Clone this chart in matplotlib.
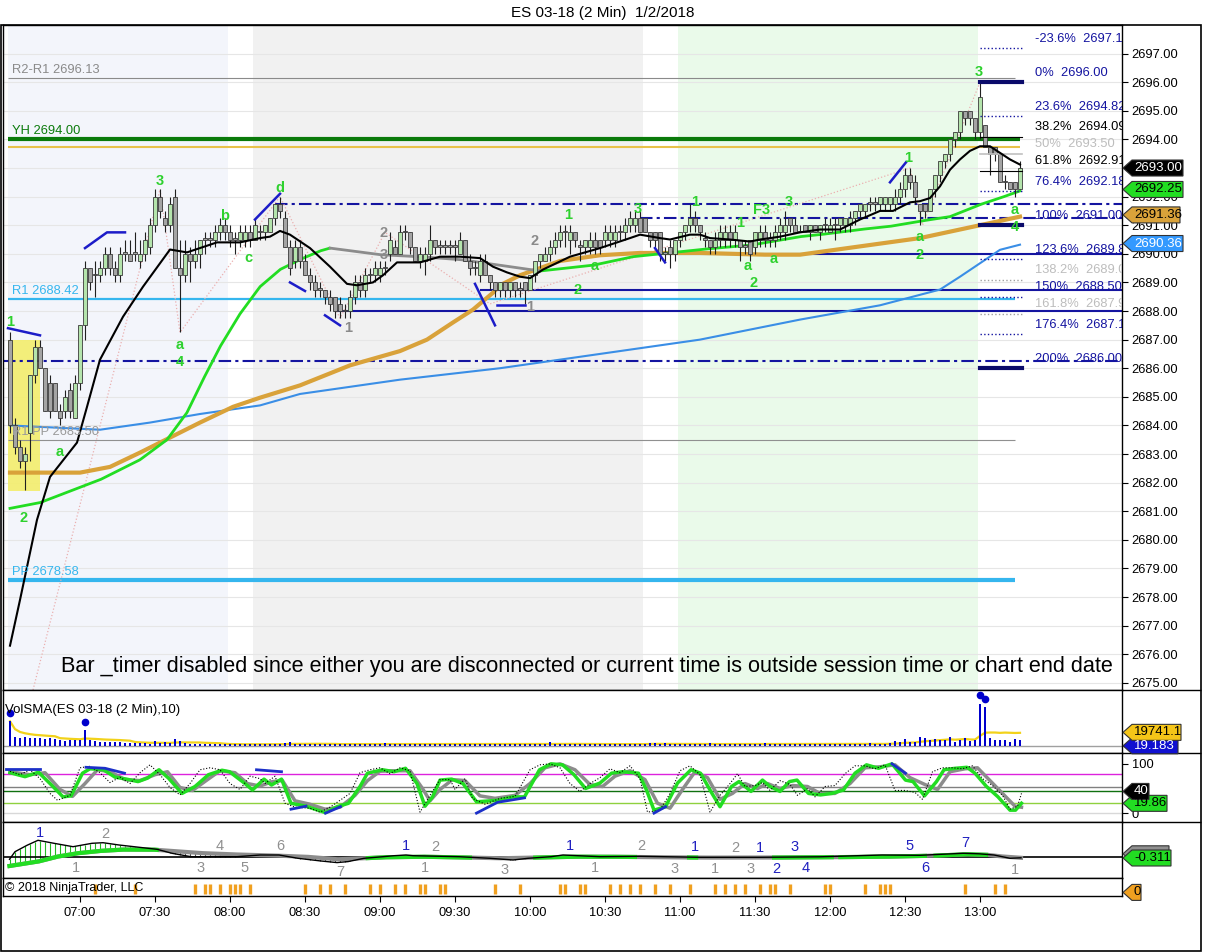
import numpy as np
import pandas as pd
import matplotlib.pyplot as plt
from matplotlib.patches import Rectangle, Polygon
import matplotlib.transforms as mtransforms

plt.rcParams['font.family'] = ['Liberation Sans', 'DejaVu Sans']
plt.rcParams['font.size'] = 9.3

W, H = 1206, 952

# ---- ES 03-18, 2 min bars, 06:32 .. 13:16 (bar number is the x position) ----
opens = [
    2687, 2684, 2683.25, 2682.75, 2683.75, 2685.75, 2686.75, 2686, 2685.5, 2685.5,
    2684.5, 2684.5, 2685.25, 2684.25, 2685.5, 2687.5, 2689.5, 2689.25, 2689.25, 2689.5,
    2690, 2689.5, 2689.25, 2690, 2690, 2690, 2689.75, 2690, 2690.25, 2691,
    2692, 2691.25, 2691, 2692, 2689.5, 2689.25, 2690, 2689.75, 2690, 2690.5,
    2690.5, 2690.5, 2690.75, 2691, 2690.75, 2690.5, 2690.5, 2690.5, 2690.75, 2690.5,
    2690.75, 2690.75, 2690.75, 2691.25, 2691.75, 2691.25, 2690.25, 2689.75, 2690.25, 2689.75,
    2689.25, 2689, 2688.75, 2688.75, 2688.5, 2688.5, 2688.25, 2688, 2688, 2688.5,
    2689, 2688.75, 2689.25, 2689.25, 2689.25, 2689.5, 2690, 2690.25, 2690, 2690.75,
    2690.75, 2690.25, 2689.75, 2689.75, 2690, 2690.5, 2690.25, 2690.25, 2690.25, 2690.25,
    2690, 2690.5, 2689.75, 2689.5, 2689.25, 2689.75, 2689.25, 2689, 2688.75, 2689,
    2688.75, 2689, 2688.75, 2689, 2688.75, 2689.25, 2689.75, 2689.75, 2690, 2690.25,
    2690.5, 2690.75, 2690.5, 2690.75, 2690.25, 2690.25, 2690.25, 2690.5, 2690.5, 2690.5,
    2690.5, 2690.5, 2690.75, 2690.75, 2691, 2691, 2691.25, 2691.25, 2690.75, 2690.75,
    2690.75, 2690, 2690.25, 2690, 2690.5, 2690.75, 2691, 2691.25, 2691, 2690.5,
    2690.5, 2690.25, 2690.5, 2690.5, 2690.75, 2690.5, 2690.5, 2690.25, 2690.5, 2690.25,
    2690.5, 2690.75, 2690.5, 2690.5, 2690.75, 2690.75, 2691.25, 2691, 2690.75, 2691,
    2690.75, 2691, 2690.75, 2691, 2690.75, 2691, 2691, 2691, 2691, 2691.25,
    2691.5, 2691.5, 2691.75, 2691.75, 2691.75, 2691.75, 2691.75, 2691.75, 2692, 2692.25,
    2692.75, 2692.5, 2691.75, 2691.75, 2691.5, 2692.25, 2692.75, 2693.25, 2693.5, 2694,
    2694.25, 2695, 2695, 2694.75, 2694.25, 2694.5, 2693.75, 2693.75, 2693.5, 2692.5,
    2692.5, 2692.5, 2692.25,
]
highs = [
    2687.25, 2684.25, 2683.5, 2683.25, 2685.75, 2687, 2687, 2686, 2685.75, 2685.5,
    2684.75, 2685.25, 2685.5, 2685.75, 2687.5, 2689.75, 2689.5, 2689.75, 2689.75, 2690.25,
    2690.25, 2689.75, 2690.25, 2690.5, 2690.5, 2690.75, 2690.5, 2690.75, 2691.25, 2692.25,
    2692.25, 2691.5, 2692, 2692.25, 2690.5, 2690.5, 2690.25, 2690.5, 2690.5, 2690.75,
    2690.75, 2691, 2691.25, 2691.25, 2691, 2690.75, 2691, 2691, 2691, 2691.25,
    2691, 2691, 2691.25, 2691.75, 2692, 2691.5, 2690.5, 2690.5, 2690.5, 2690,
    2689.5, 2689.25, 2689, 2688.75, 2688.75, 2688.5, 2688.5, 2688.25, 2688.75, 2689.25,
    2689.25, 2689.5, 2689.5, 2689.75, 2689.75, 2689.75, 2690.75, 2690.5, 2691, 2691,
    2690.75, 2690.25, 2690.25, 2690.25, 2691, 2690.5, 2690.5, 2690.5, 2690.5, 2690.5,
    2690.75, 2690.5, 2690, 2689.75, 2690, 2690, 2689.25, 2689, 2689, 2689,
    2689, 2689, 2689, 2689, 2689.25, 2689.75, 2690, 2690.25, 2690.5, 2690.75,
    2691, 2691, 2691, 2690.75, 2690.5, 2690.5, 2690.75, 2690.75, 2690.5, 2691,
    2691, 2691, 2691, 2691.25, 2691.5, 2691.5, 2691.5, 2691.25, 2690.75, 2690.75,
    2690.75, 2690.25, 2690.5, 2690.5, 2690.75, 2691, 2691.75, 2691.5, 2691, 2690.75,
    2690.5, 2690.75, 2691, 2691, 2691, 2691, 2690.5, 2690.5, 2690.5, 2690.75,
    2691, 2691, 2690.75, 2691, 2691.25, 2691.5, 2691.25, 2691.25, 2691, 2691,
    2691, 2691, 2691, 2691.25, 2691.25, 2691.25, 2691.25, 2691.25, 2691.5, 2691.5,
    2691.75, 2691.75, 2692, 2692, 2692, 2692, 2692, 2692.25, 2692.5, 2693,
    2693, 2692.75, 2691.75, 2691.75, 2692.25, 2692.75, 2693.25, 2693.5, 2694, 2694.25,
    2695, 2695, 2695, 2694.75, 2696, 2694.5, 2693.75, 2693.75, 2693.5, 2692.75,
    2692.5, 2692.5, 2693.25,
]
lows = [
    2683.75, 2683, 2682.5, 2681.75, 2682.75, 2685.5, 2686, 2684.5, 2684.25, 2684.5,
    2684, 2684.25, 2684.25, 2684.25, 2685.25, 2687, 2688.75, 2688.5, 2689, 2689.25,
    2689.25, 2689, 2689, 2689.75, 2689.75, 2689.75, 2689.5, 2689.75, 2690, 2690.75,
    2691.25, 2690.75, 2690.75, 2689.5, 2687.25, 2689, 2689, 2689.5, 2689.5, 2690,
    2690.25, 2690.25, 2690.5, 2690.5, 2690.25, 2690, 2690.25, 2690.25, 2690.25, 2690.5,
    2690.5, 2690.5, 2690.75, 2691, 2691.25, 2690.25, 2689.25, 2689.5, 2689.5, 2689.25,
    2688.75, 2688.5, 2688.5, 2688.25, 2688, 2687.75, 2687.75, 2687.75, 2687.75, 2688.25,
    2688.5, 2688.5, 2689, 2689, 2689, 2689.25, 2689.75, 2690, 2690, 2690.5,
    2690, 2689.75, 2689.5, 2689.25, 2689.75, 2690, 2690, 2690, 2690, 2689.75,
    2690, 2689.75, 2689.25, 2689.25, 2689, 2689.25, 2688.75, 2688.5, 2688.5, 2688.5,
    2688.5, 2688.5, 2688.5, 2688.25, 2688.75, 2689, 2689.5, 2689.75, 2689.75, 2690,
    2690.25, 2690.25, 2690, 2690.25, 2689.75, 2690, 2690, 2690, 2690, 2690.25,
    2690.25, 2690.25, 2690.5, 2690.5, 2690.75, 2690.75, 2690.75, 2690.75, 2690.25, 2690.25,
    2689.75, 2689.75, 2689.5, 2689.75, 2690.25, 2690.5, 2690.75, 2690.75, 2690.5, 2690.25,
    2690, 2690, 2690.25, 2690.25, 2690.25, 2690.25, 2689.75, 2690, 2689.75, 2690,
    2690.25, 2690.25, 2690.25, 2690.25, 2690.5, 2690.5, 2690.75, 2690.75, 2690.75, 2690.75,
    2690.5, 2690.75, 2690.5, 2690.75, 2690.75, 2690.5, 2690.75, 2690.75, 2690.75, 2691,
    2691.25, 2691.25, 2691.5, 2691.5, 2691.5, 2691.5, 2691.5, 2691.5, 2691.75, 2692,
    2692.25, 2691.75, 2691, 2691.25, 2691.5, 2692, 2692.5, 2693, 2693.25, 2693.75,
    2694, 2694.5, 2694.5, 2694, 2694, 2693.75, 2692.75, 2693.25, 2692.5, 2692.25,
    2692.25, 2692, 2692.25,
]
closes = [
    2684, 2683.25, 2682.75, 2683, 2685.75, 2686.75, 2686, 2684.5, 2684.5, 2684.5,
    2684.25, 2685, 2684.5, 2685.5, 2687.5, 2689.5, 2689, 2689.25, 2689.5, 2690,
    2689.5, 2689.25, 2690, 2690, 2689.75, 2690, 2690, 2690.5, 2691, 2692,
    2691.5, 2691, 2691.75, 2689.5, 2689.25, 2690, 2689.75, 2690, 2690.5, 2690.5,
    2690.5, 2690.75, 2691, 2690.75, 2690.5, 2690.5, 2690.75, 2690.75, 2690.5, 2691,
    2690.75, 2691, 2691.25, 2691.75, 2691.5, 2690.25, 2689.5, 2690.25, 2689.75, 2689.25,
    2689, 2688.75, 2688.75, 2688.5, 2688.25, 2688, 2688, 2688, 2688.5, 2689,
    2688.75, 2689.25, 2689.25, 2689.5, 2689.5, 2689.5, 2690.5, 2690, 2690.75, 2690.75,
    2690.25, 2689.75, 2690, 2690, 2690.5, 2690.25, 2690.25, 2690.25, 2690.25, 2690.25,
    2690.5, 2689.75, 2689.5, 2689.5, 2689.75, 2689.25, 2689, 2688.75, 2689, 2688.75,
    2689, 2688.75, 2688.75, 2688.75, 2689.25, 2689.75, 2690, 2690, 2690.25, 2690.5,
    2690.75, 2690.75, 2690.75, 2690.5, 2690.25, 2690.5, 2690.5, 2690.25, 2690.25, 2690.75,
    2690.75, 2690.75, 2690.75, 2691, 2691.25, 2691.25, 2690.75, 2690.75, 2690.5, 2690.5,
    2690, 2690, 2690, 2690.5, 2690.75, 2691, 2691.25, 2691, 2690.75, 2690.5,
    2690.25, 2690.5, 2690.75, 2690.75, 2690.5, 2690.75, 2690.25, 2690.25, 2690, 2690.75,
    2690.75, 2690.5, 2690.5, 2690.75, 2691, 2691, 2691, 2690.75, 2690.75, 2690.75,
    2691, 2690.75, 2691, 2691, 2691, 2691, 2691.25, 2691.25, 2691.25, 2691.5,
    2691.75, 2691.75, 2691.75, 2691.75, 2692, 2692, 2692, 2692, 2692.25, 2692.75,
    2692.5, 2692, 2691.5, 2691.5, 2692.25, 2692.75, 2693.25, 2693.5, 2694, 2694.25,
    2695, 2694.75, 2694.75, 2694.25, 2695.5, 2693.75, 2693.5, 2693.5, 2692.5, 2692.5,
    2692.25, 2692.25, 2693,
]
volumes = [
    36000, 13000, 12000, 12500, 12000, 11000, 12000, 10500, 11000, 10000,
    8000, 7500, 8000, 9000, 8500, 23000, 9000, 7000, 6000, 6000,
    5500, 5000, 5000, 4500, 4000, 4000, 3500, 3500, 3000, 6500,
    4500, 5000, 3500, 9500, 6500, 4000, 3000, 3000, 2500, 2500,
    2500, 2000, 2000, 2500, 2000, 2500, 2000, 2000, 3000, 2000,
    2500, 2000, 3000, 2500, 2000, 3500, 5000, 3000, 2500, 2500,
    2500, 3000, 2500, 2000, 2500, 2000, 2500, 3000, 2500, 2500,
    2000, 2500, 3000, 2500, 2000, 3500, 2500, 2000, 2500, 3000,
    2500, 2000, 2500, 2000, 2500, 3000, 2500, 2000, 2500, 2500,
    2000, 2500, 3000, 2500, 2500, 2000, 2500, 3000, 2500, 2000,
    2500, 2500, 2000, 2500, 3000, 2500, 2000, 2500, 5000, 2500,
    2000, 2500, 2500, 3000, 2500, 2000, 2500, 2500, 2000, 2500,
    2500, 3000, 2500, 2000, 2500, 2500, 3000, 2500, 4000, 3500,
    2500, 3500, 2500, 2000, 2500, 3000, 2500, 2000, 2500, 3000,
    3500, 2500, 2000, 2500, 2500, 3000, 2500, 2000, 3000, 2500,
    2500, 3500, 2500, 2000, 2500, 3000, 2000, 2500, 3000, 2500,
    2500, 2000, 2500, 3000, 2500, 2500, 2000, 2500, 3000, 2500,
    2500, 3000, 3500, 3000, 2500, 3000, 3500, 6500, 6000, 9500,
    5000, 6000, 13500, 11000, 8000, 10000, 9000, 9000, 13000, 5000,
    9000, 12000, 7000, 9000, 62000, 57000, 12000, 9000, 8000, 9000,
    6000, 9500, 9000,
]
vol_spike_bars = [0, 15, 194, 195]

time_labels = ['07:00', '07:30', '08:00', '08:30', '09:00', '09:30', '10:00',
               '10:30', '11:00', '11:30', '12:00', '12:30', '13:00']
time_label_bars = [14, 29, 44, 59, 74, 89, 104, 119, 134, 149, 164, 179, 194]

# moving averages (bar, price)
ma_fast_bars = [0, 2, 5.4, 8, 13.4, 15.4, 18, 22.6, 26.6, 32, 35.4, 41.4, 46, 50, 52, 54, 56, 60,
                64, 67.4, 69.4, 72.6, 74.6, 77.4, 82, 86, 90, 94, 96.6, 99.4, 102, 104, 106.6,
                112, 118, 124, 126, 130, 132, 136, 138, 140, 144, 148, 150, 154, 158, 162, 166,
                170, 174, 176.6, 180, 182, 184, 186, 188, 190, 192, 194, 196, 198, 200, 202]
ma_fast = [2676.3, 2677.9, 2680.7, 2682.2, 2683.4, 2684.65, 2686.3, 2687.8, 2688.85, 2690.15,
           2690.05, 2690.4, 2690.4, 2690.55, 2690.6, 2690.8, 2690.67, 2690.2, 2689.55, 2688.95,
           2688.9, 2689.0, 2689.25, 2689.7, 2689.7, 2689.9, 2689.9, 2689.85, 2689.55, 2689.35,
           2689.2, 2689.15, 2689.45, 2689.9, 2690.2, 2690.55, 2690.67, 2690.55, 2690.5, 2690.67,
           2690.67, 2690.55, 2690.5, 2690.43, 2690.5, 2690.6, 2690.75, 2690.85, 2690.85, 2691.2,
           2691.5, 2691.5, 2691.8, 2691.84, 2691.95, 2692.36, 2692.94, 2693.3, 2693.6, 2693.76,
           2693.76, 2693.53, 2693.3, 2693.12]
ma_mid_bars = [0, 6, 18, 26, 31.4, 35.4, 38.6, 42, 46, 50, 54, 58, 62, 64, 74, 82, 90, 98, 106,
               116.6, 124.6, 130, 138, 148, 158, 162, 170, 176, 182, 188, 194, 198, 202]
ma_mid = [2681.1, 2681.3, 2682.1, 2682.8, 2683.5, 2684.45, 2685.6, 2686.75, 2687.9, 2688.85,
          2689.45, 2689.8, 2690.1, 2690.2, 2689.97, 2689.9, 2689.8, 2689.6, 2689.4, 2689.6,
          2689.9, 2690.0, 2690.15, 2690.3, 2690.6, 2690.67, 2690.85, 2690.96, 2691.14, 2691.3,
          2691.72, 2691.95, 2692.2]
ma_mid_falling = (64, 106)
ma_slow_bars = [0, 14, 20, 26, 30, 38, 44.6, 50, 58, 68, 78, 83.4, 88.6, 92.6, 96.6, 98, 102, 106,
                110, 118, 126, 138, 151, 158, 170, 182, 194, 202]
ma_slow = [2682.35, 2682.35, 2682.55, 2683.05, 2683.4, 2684.1, 2684.65, 2684.97, 2685.4, 2686.1,
           2686.6, 2687.0, 2687.6, 2688.05, 2688.64, 2688.9, 2689.25, 2689.5, 2689.75, 2689.95,
           2690.03, 2690.03, 2689.97, 2689.97, 2690.26, 2690.55, 2691.0, 2691.3]
ma_long_bars = [0, 18, 28, 38, 50, 58, 78, 98, 118, 138, 158, 174, 186, 190, 194, 198, 202]
ma_long = [2684.0, 2683.85, 2684.1, 2684.4, 2684.7, 2685.1, 2685.6, 2686.0, 2686.5, 2687.0,
           2687.7, 2688.2, 2688.75, 2689.2, 2689.67, 2690.14, 2690.32]

# pivots and fib levels
r2_r1, yh, y_gold, r1, pp_mid, pp = 2696.13, 2694.00, 2693.75, 2688.42, 2683.50, 2678.58
fib_pct = ['-23.6%', '0%', '23.6%', '38.2%', '50%', '61.8%', '76.4%', '100%',
           '123.6%', '138.2%', '150%', '161.8%', '176.4%', '200%']
fib_val = [2697.18, 2696.00, 2694.82, 2694.09, 2693.50, 2692.91, 2692.18, 2691.00,
           2689.82, 2689.09, 2688.50, 2687.91, 2687.18, 2686.00]
fib_kind = ['dot', 'bold', 'dot', 'black', 'grey', 'black', 'dot', 'bold',
            'dot', 'greydot', 'dot', 'greydot', 'dot', 'bold']
dashdot_levels = [(2691.75, 53), (2691.25, 126), (2686.25, -1.4)]
solid_levels = [(2690.0, 126), (2688.75, 94), (2688.0, 65)]

trend_segments = [
    [(-0.4, 2687.4), (6, 2687.15)],
    [(15, 2690.2), (19.4, 2690.75), (23, 2690.75)],
    [(49, 2691.2), (54, 2692.1)],
    [(56, 2689.0), (59, 2688.7)],
    [(63, 2687.85), (66, 2687.5)],
    [(93, 2688.95), (97, 2687.5)],
    [(97.4, 2688.2), (103, 2688.2)],
    [(129, 2690.2), (131, 2689.7)],
    [(176, 2692.5), (179.2, 2693.2)],
]
zigzag = [(4.6, 2674.75), (30, 2692.25), (34, 2687.25), (54, 2692.0), (66, 2687.75),
          (75, 2690.75), (96, 2688.25), (180, 2693.0), (182.5, 2691.0), (194, 2696.0)]

wave_labels = [('1', 0, 2687.63), ('2', 2.8, 2680.77), ('a', 10, 2683.08), ('3', 30, 2692.56),
               ('a', 34, 2686.82), ('4', 34, 2686.23), ('b', 43, 2691.33), ('c', 47.6, 2689.86),
               ('d', 54, 2692.31), ('1', 111.6, 2691.37), ('2', 113.6, 2688.75), ('a', 117, 2689.58),
               ('3', 125.6, 2691.58), ('1', 137, 2691.82), ('1', 146, 2691.09), ('a', 147.6, 2689.58),
               ('2', 148.8, 2688.99), ('F3', 150.4, 2691.54), ('a', 152.8, 2689.83), ('3', 155.8, 2691.82),
               ('1', 179.6, 2693.36), ('a', 182, 2690.6), ('2', 182, 2689.97), ('3', 193.8, 2696.34),
               ('a', 201, 2691.54), ('4', 201, 2690.95)]
swing_labels = [('1', 67.6, 2687.42), ('2', 74.8, 2690.74), ('3', 74.8, 2689.97),
                ('2', 105, 2690.46), ('1', 104, 2688.15)]

# stochastics (bar, value)
stoch_k_bars = [0, 3, 5.7, 8.3, 10.6, 12.2, 14.5, 16, 18.7, 21, 23.3, 25.6, 27.5, 29.8, 31.7, 34.4,
                37, 39.7, 42.4, 43.9, 47, 48.5, 50.8, 52.3, 54.3, 56.2, 59.2, 63.1, 65.4, 67.7, 70,
                71.5, 74.5, 76.8, 79.1, 81.4, 83, 84.5, 86, 88.3, 90.6, 93.3, 97.5, 100.6, 102.9,
                105.9, 108.2, 110.5, 112.8, 115.1, 118, 120.3, 122.6, 125.7, 127.3, 128.8, 131.1,
                133.5, 136.2, 138.1, 140.4, 142, 144.3, 145.8, 148.2, 150.5, 152, 154, 155.9, 157.4,
                159.7, 162.1, 164.4, 166.7, 169, 171.3, 173.7, 176.4, 179.1, 180.6, 182.9, 185.3,
                186.8, 189.1, 191.4, 193, 195.3, 197.6, 200, 201.1, 202.3]
stoch_k = [82, 74, 83, 57, 33, 35, 81, 90, 88, 73, 69, 64, 71, 88, 71, 40, 54, 78, 87, 84,
           60, 47, 69, 57, 69, 20, 14, 1, 13, 20, 54, 81, 88, 84, 91, 60, 14, 33, 67, 69,
           60, 23, 26, 33, 33, 88, 100, 98, 78, 50, 61, 81, 84, 81, 47, 6, 13, 61, 88, 81,
           40, 13, 54, 64, 44, 67, 54, 44, 64, 67, 40, 37, 40, 47, 81, 98, 91, 100, 67, 64,
           35, 64, 88, 91, 93, 81, 54, 33, 6, 6, 20]
stoch_d_bars = [0, 4, 7, 10, 12.5, 15, 17.5, 20, 23, 26, 29, 31.5, 34, 36.5, 39.5, 42, 45, 47.5,
                50, 52.5, 54.5, 57, 60, 63, 66, 69, 71.5, 74, 77, 80, 82.5, 84, 86, 88.5, 91, 94,
                97, 101, 104, 107, 110, 113, 116, 118.5, 121, 124, 127, 129.5, 132, 134.5, 137,
                139.5, 142, 144.5, 147, 149.5, 151.5, 154, 156.5, 159.5, 162, 165, 168, 171, 174,
                177, 180, 183, 185.5, 188, 191, 193.5, 196, 198.5, 201, 202.3]
stoch_d = [84, 78, 82, 48, 34, 60, 88, 84, 68, 66, 78, 84, 52, 46, 68, 86, 82, 60, 55, 64,
           66, 25, 18, 8, 12, 36, 66, 85, 86, 86, 50, 25, 48, 68, 66, 35, 30, 36, 60, 92,
           100, 88, 58, 54, 75, 86, 68, 20, 10, 48, 84, 72, 28, 40, 60, 50, 60, 50, 56, 54,
           40, 40, 60, 92, 94, 98, 72, 58, 48, 84, 90, 92, 66, 40, 14, 12]
stoch_fast_bars = [0, 2, 4, 6, 8, 9.5, 12, 14, 16, 18, 20, 22, 24, 26, 28, 30, 32, 34, 36, 38,
                   40, 42, 44, 46, 48, 50, 51, 53, 55, 57, 60, 62, 64, 66, 68, 70, 72, 74, 76, 78,
                   80, 82, 84, 86, 88, 89, 91, 92.5, 95, 98, 101, 104, 106, 108, 110, 112, 114, 116,
                   118, 120, 122, 124, 126, 127.5, 130, 132, 134, 136, 138, 140, 142, 144, 145.5,
                   147, 149, 150.5, 152, 154, 156, 157.5, 159.5, 161, 163, 165, 167, 169, 171, 173,
                   175, 177, 179, 181, 182.5, 184.5, 186.5, 188.5, 190.5, 192.5, 194.5, 196.5,
                   198.5, 200, 201.5, 202.3]
stoch_fast = [85, 78, 88, 70, 40, 26, 36, 92, 95, 82, 62, 73, 60, 82, 98, 78, 52, 37, 60, 88,
              92, 88, 60, 48, 75, 70, 60, 75, 20, 12, 10, 2, 12, 26, 40, 82, 88, 92, 80, 92,
              86, 2, 36, 68, 68, 48, 70, 30, 18, 30, 34, 88, 98, 100, 92, 60, 44, 60, 72, 90,
              82, 96, 70, 2, 6, 40, 86, 96, 78, 2, 36, 60, 80, 54, 56, 62, 46, 66, 58, 36,
              50, 33, 54, 56, 80, 96, 96, 90, 98, 46, 46, 42, 28, 84, 92, 92, 90, 96, 70, 56,
              36, 8, 14, 40]
stoch_marks = [
    [(-0.85, 90), (6, 90)],
    [(15.2, 93), (19, 91), (22.9, 81)],
    [(49.3, 88), (54.3, 84)],
    [(56.2, 8), (59.2, 14)],
    [(63.1, 0), (66.1, 13)],
    [(93.3, 0), (97.5, 22), (102.9, 31)],
    [(128.8, 0), (131.1, 13)],
    [(176.4, 100), (179.1, 81)],
]

# macd style panel (bar, value)
macd_bars = [-0.1, 1, 3.4, 5.6, 8.8, 12.6, 16.4, 18.6, 21.8, 24.8, 29.4, 32.4, 36.2, 40.8, 45.4,
             50, 53.8, 57.6, 62.2, 65.4, 67.6, 70.8, 74.6, 76.8, 79.2, 80.6, 89.8, 96, 100.6,
             103.6, 108.2, 110.6, 113.6, 118, 126, 138, 150, 162, 174.4, 182, 190.6, 193.8,
             196.8, 200, 202.2]
macd = [-0.2, 0.56, 1.2, 1.7, 1.4, 1.06, 1.4, 1.46, 1.23, 1.06, 0.8, 0.4, 0.06, 0.06, 0.06,
        0.23, 0.23, -0.1, -0.37, -0.53, -0.43, -0.1, 0.06, 0.16, 0.23, 0.16, 0.06, -0.1, -0.27,
        -0.1, 0.06, 0.23, 0.16, 0.06, 0.1, 0.0, 0.0, 0.05, 0.23, 0.2, 0.4, 0.35, 0.23, -0.1, -0.05]
signal_bars = [-0.1, 5.6, 9.4, 13.4, 17.8, 22.4, 28.6, 32.4, 37.8, 44, 51.6, 59.2, 65.4, 70.8,
               74.6, 82.2, 89.8, 97.6, 105.2, 112.8, 118, 126, 138, 150, 162, 174, 184, 191.4,
               195.4, 198, 202.2]
signal = [-0.87, -0.43, 0.06, 0.4, 0.63, 0.77, 0.77, 0.63, 0.43, 0.3, 0.2, 0.06, -0.2, -0.1,
          0, 0.06, 0, -0.1, -0.03, 0.06, 0.06, 0.03, -0.03, -0.03, 0, 0.05, 0.15, 0.3, 0.25,
          0.1, -0.05]
signal_up_spans = [(-0.1, 29.4), (71.5, 92), (105, 125), (135.8, 137.3), (152.8, 164.4),
                   (166, 183), (185, 195.3)]
macd_labels = [('1', 6, 2.43, 'b'), ('2', 19, 2.33, 'g'), ('1', 13.2, -1.07, 'g'),
               ('3', 38.2, -1.07, 'g'), ('4', 42, 1.13, 'g'), ('5', 47, -1.07, 'g'),
               ('6', 54, 1.13, 'g'), ('7', 66, -1.47, 'g'), ('1', 79.2, 1.13, 'b'),
               ('2', 85, 1.03, 'g'), ('1', 83, -1.07, 'g'), ('3', 99, -1.27, 'g'),
               ('1', 112, 1.13, 'b'), ('1', 117, -1.07, 'g'), ('2', 126.2, 1.13, 'g'),
               ('3', 133, -1.17, 'g'), ('1', 137, 1.03, 'b'), ('1', 141, -1.17, 'g'),
               ('2', 145, 0.93, 'g'), ('1', 150, 0.93, 'b'), ('3', 148.2, -1.17, 'g'),
               ('2', 153.2, -1.17, 'b'), ('3', 157, 1.03, 'b'), ('4', 159.2, -1.07, 'b'),
               ('5', 180, 1.13, 'b'), ('6', 183, -1.07, 'b'), ('7', 191, 1.43, 'b'),
               ('1', 201, -1.27, 'g')]

alert_bars = [17, 25, 37, 39, 40, 42, 44, 45, 46, 48, 59, 62, 64, 67, 72, 74, 77, 79, 82, 83,
              86, 87, 97, 102, 110, 111, 114, 115, 120, 122, 124, 126, 129, 132, 136, 141, 143,
              145, 147, 150, 152, 153, 156, 163, 164, 171, 174, 175, 176, 191, 197, 199]

# session shading (bar ranges)
shade = [(-0.5, 43.5, '#f3f5fb'), (48.5, 126.5, '#f1f1f1'), (133.5, 193.5, '#eafaea')]

GREEN_TXT = '#2ed12e'
NAVY = '#1414a0'

fig = plt.figure(figsize=(W / 100, H / 100), dpi=100)
fig.patch.set_facecolor('white')


def panel(top, bottom):
    ax = fig.add_axes([3 / W, 1 - bottom / H, 1119 / W, (bottom - top) / H])
    ax.set_xlim(-1.4, 222.4)
    ax.set_xticks([])
    ax.yaxis.tick_right()
    ax.tick_params(axis='y', length=4, pad=3, labelsize=9.3)
    for s in ax.spines.values():
        s.set_linewidth(1.0)
    return ax


main = panel(25, 690)
vol = panel(690, 753)
sto = panel(753, 822)
mac = panel(822, 878)
strip = panel(878, 896)

# ---------------- price panel ----------------
main.set_ylim(2674.75, 2698.0)
price_ticks = np.arange(2675, 2698)
main.set_yticks(price_ticks)
# the last-price tag sits on top of 2693.00, so that label is left empty
main.set_yticklabels(['' if p == 2693 else f'{p:.2f}' for p in price_ticks])
main.grid(axis='y', color='#e6e6e6', lw=0.8)
main.set_axisbelow(True)
for a, b, col in shade:
    main.axvspan(a, b, color=col, lw=0, zorder=0)

main.add_patch(Rectangle((-0.4, 2681.7), 6.4, 5.3, facecolor='#f4ee6c', edgecolor='none',
                         alpha=0.9, zorder=1))

main.hlines(r2_r1, -0.5, 201, color='#8a8a8a', lw=0.8, zorder=2)
main.hlines(yh, -0.4, 202, color='#0a7a0a', lw=3, zorder=2)
main.hlines(y_gold, -0.4, 202, color='#e8c24a', lw=1.5, zorder=2)
main.hlines(r1, -0.4, 201, color='#35b6ee', lw=1.6, zorder=2)
main.hlines(pp_mid, -0.4, 201, color='#909090', lw=0.8, zorder=2)
main.hlines(pp, -0.4, 201, color='#35b6ee', lw=3, zorder=2)
for lev, start in dashdot_levels:
    main.hlines(lev, start, 222.4, color=NAVY, lw=1.5, linestyles=(0, (6, 2, 1.5, 2)), zorder=2)
for lev, start in solid_levels:
    main.hlines(lev, start, 222.4, color=NAVY, lw=1.5, zorder=2)

for lab, y, col in [('R2-R1 2696.13', r2_r1 + 0.3, '#8a8a8a'), ('YH 2694.00', yh + 0.3, '#0a7a0a'),
                    ('R1 2688.42', r1 + 0.27, '#35b6ee'), ('R1 PP 2683.50', pp_mid + 0.28, '#9a9a9a'),
                    ('PP 2678.58', pp + 0.3, '#35b6ee')]:
    main.text(0.4, y, lab, color=col, fontsize=9.3, va='center', zorder=7)

# fib ladder on the right
fib_style = {'dot': dict(color=NAVY, lw=1, ls=':'), 'bold': dict(color='#0a0a6a', lw=3, ls='-'),
             'black': dict(color='black', lw=0.8, ls='-'), 'grey': dict(color='#c0c0c0', lw=1.2, ls='-'),
             'greydot': dict(color='#a0a0a0', lw=1, ls=':')}
fib_txt_col = {'dot': NAVY, 'bold': NAVY, 'black': 'black', 'grey': '#bdbdbd', 'greydot': '#bdbdbd'}
for pct, val, kind in zip(fib_pct, fib_val, fib_kind):
    st = fib_style[kind]
    main.plot([194, 202.4], [val, val], color=st['color'], lw=st['lw'], ls=st['ls'], zorder=6)
    main.text(205, val + 0.12, f'{pct}  {val:.2f}', color=fib_txt_col[kind], fontsize=9.3,
              va='bottom', ha='left', clip_on=True, zorder=7)

zx, zy = zip(*zigzag)
main.plot(zx, zy, color='#eab0b0', lw=0.9, ls=':', zorder=2)

# moving averages
main.plot(ma_long_bars, ma_long, color='#3a8ee6', lw=1.5, zorder=3)
main.plot(ma_slow_bars, ma_slow, color='#d9a23a', lw=3, zorder=3)
mid_x = np.linspace(0, 202, 1200)
mid_y = np.interp(mid_x, ma_mid_bars, ma_mid)
falling = (mid_x >= ma_mid_falling[0]) & (mid_x <= ma_mid_falling[1])
main.plot(np.where(falling, np.nan, mid_x), mid_y, color='#22dd22', lw=2, zorder=3)
main.plot(np.where(falling, mid_x, np.nan), mid_y, color='#8c8c8c', lw=2, zorder=3)

# candles
idx = np.arange(len(closes))
o, hi, lo, c = (np.array(v, dtype=float) for v in (opens, highs, lows, closes))
body_low = np.minimum(o, c)
body_h = np.maximum(np.abs(c - o), 0.05)
body_col = np.where(c > o, '#b4e4ac', '#a4a4a4')
main.vlines(idx, lo, hi, color='#202020', lw=0.8, zorder=4)
main.bar(idx, body_h, bottom=body_low, width=0.72, color=body_col, edgecolor='#3a3a3a',
         lw=0.6, zorder=5)
main.plot(ma_fast_bars, ma_fast, color='black', lw=1.5, zorder=6)

for seg in trend_segments:
    sx, sy = zip(*seg)
    main.plot(sx, sy, color='#1c1cc8', lw=1.8, zorder=6)

for t, x, y in wave_labels:
    main.text(x, y, t, color=GREEN_TXT, fontsize=10.5, fontweight='bold', ha='center',
              va='center', zorder=8)
for t, x, y in swing_labels:
    main.text(x, y, t, color='#8a8a8a', fontsize=10.5, fontweight='bold', ha='center',
              va='center', zorder=8)

main.text(0.522, 0.035, 'Bar _timer disabled since either you are disconnected or current time '
          'is outside session time or chart end date', transform=main.transAxes, ha='center',
          va='center', fontsize=15.6, zorder=9)

# ---------------- volume ----------------
vol.set_ylim(-10600, 82000)
vol.set_yticks([0])
vol.set_yticklabels(['0'])
vol.axhline(0, color='#a0a0a0', lw=1, zorder=1)
vol.bar(idx, volumes, width=0.38, color='#0000cc', zorder=3)
vol_sma = pd.Series(volumes, dtype=float).rolling(10, min_periods=1).mean()
vol.plot(idx, vol_sma, color='#f2d21a', lw=1.6, zorder=2)
dot_shift = mtransforms.ScaledTranslation(0, 6 / 72, fig.dpi_scale_trans)
for b in vol_spike_bars:
    vol.plot(b, volumes[b], 'o', color='#0000cc', ms=4.5, transform=vol.transData + dot_shift,
             zorder=4, clip_on=False)
vol.text(0.002, 0.68, 'VolSMA(ES 03-18 (2 Min),10)', transform=vol.transAxes, fontsize=9.5,
         va='center', zorder=5)

# ---------------- stochastics ----------------
sto.set_ylim(-18, 122)
sto.set_yticks([0, 100])
sto.set_yticklabels(['0', '100'])
for lev, col in [(80, '#dd22dd'), (54, '#808080'), (45, '#107010'), (20, '#8fd13f'), (0, '#d8d8d8')]:
    sto.axhline(lev, color=col, lw=1, zorder=1)
sto.plot(stoch_d_bars, stoch_d, color='#8c8c8c', lw=2.5, zorder=3)
sto.plot(stoch_k_bars, stoch_k, color='#22dd22', lw=2.5, zorder=4)
sto.plot(stoch_fast_bars, stoch_fast, color='black', lw=0.8, ls=':', zorder=5)
for seg in stoch_marks:
    sx, sy = zip(*seg)
    sto.plot(sx, sy, color='#1c30c8', lw=2, zorder=6)

# ---------------- macd ----------------
mac.set_ylim(-2.07, 3.53)
mac.set_yticks([])
mac.axhline(0, color='black', lw=1.2, zorder=2)
m_at = np.interp(idx, macd_bars, macd)
s_at = np.interp(idx, signal_bars, signal)
hatch_col = np.where(m_at > s_at, '#22bb22', '#555555')
mac.vlines(idx, s_at, m_at, colors=hatch_col, lw=0.8, zorder=1)
sig_x = np.linspace(-0.1, 202.2, 2000)
sig_y = np.interp(sig_x, signal_bars, signal)
mac.plot(sig_x, sig_y, color='#8c8c8c', lw=3, zorder=3)
for a, b in signal_up_spans:
    m = (sig_x >= a) & (sig_x <= b)
    mac.plot(sig_x[m], sig_y[m], color='#22dd22', lw=3, zorder=4)
mac.plot(macd_bars, macd, color='black', lw=1, zorder=5)
for t, x, y, k in macd_labels:
    mac.text(x, y, t, color='#2020c0' if k == 'b' else '#909090', fontsize=10.5,
             ha='center', va='center', zorder=6)

# ---------------- alert strip / time axis ----------------
strip.set_ylim(0, 1)
strip.set_yticks([])
strip.vlines(alert_bars, 0.1, 0.67, color='#f0a020', lw=2.4)
strip.set_xticks(time_label_bars)
strip.set_xticklabels(time_labels)
strip.tick_params(axis='x', length=4, pad=4, labelsize=9.3)
strip.text(0.0015, 0.45, '\u00a9 2018 NinjaTrader, LLC', transform=strip.transAxes, fontsize=9,
           va='center', zorder=5)

# ---------------- overlay: frame, title, value tags ----------------
ov = fig.add_axes([0, 0, 1, 1])
ov.set_xlim(0, W)
ov.set_ylim(H, 0)
ov.axis('off')
ov.patch.set_visible(False)
ov.add_patch(Rectangle((1, 25), 1200, 926, fill=False, ec='black', lw=1.2))
ov.hlines([690, 753, 822], 1122, 1201, color='black', lw=1)
ov.text(603, 13, 'ES 03-18 (2 Min)  1/2/2018', ha='center', va='center', fontsize=11)


def price_tag(ax, value, text, face, txt='black', width=60):
    y = H - ax.transData.transform((0, value))[1]
    x0 = 1123
    pts = [(x0, y), (x0 + 9, y - 8), (x0 + width, y - 8), (x0 + width, y + 8), (x0 + 9, y + 8)]
    ov.add_patch(Polygon(pts, closed=True, facecolor=face, edgecolor='#333333', lw=0.8, zorder=5))
    ov.text(x0 + 11, y, text, color=txt, fontsize=9.5, va='center', ha='left', zorder=6)


price_tag(main, 2693.00, '2693.00', 'black', 'white', 60)
price_tag(main, 2692.25, '2692.25', '#22dd22', 'black', 60)
price_tag(main, 2691.36, '2691.36', '#d9a23a', 'black', 57)
price_tag(main, 2690.36, '2690.36', '#3399ff', 'white', 60)
price_tag(vol, 0, '19.183', '#1010d0', 'white', 55)
price_tag(vol, 19741.1, '19741.1', '#f5c518', 'black', 58)
price_tag(sto, 19.86, '19.86', '#22dd22', 'black', 44)
price_tag(sto, 44, '40', 'black', 'white', 26)
price_tag(mac, 0.35, '', '#909090', 'black', 46)
price_tag(mac, -0.07, '-0.311', '#22dd22', 'black', 48)
price_tag(strip, 0.2, '0', '#f0a020', 'black', 18)

fig.savefig('out.png', dpi=100)
